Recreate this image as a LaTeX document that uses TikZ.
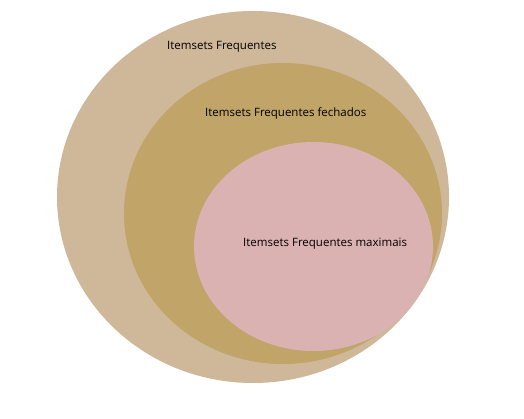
\documentclass[tikz,border=0pt]{standalone}
\usepackage{fontspec}
\setmainfont{Open Sans}
\definecolor{freq}{RGB}{207,184,154}
\definecolor{fech}{RGB}{192,164,104}
\definecolor{maxi}{RGB}{219,178,178}
\tikzset{rotulo/.style={anchor=west,inner sep=0pt,font=\fontsize{11.5}{13}\selectfont}}
\begin{document}
\begin{tikzpicture}[x=1pt,y=-1pt]
\useasboundingbox(0,0)rectangle(524,418);
\fill[freq](253,197)ellipse[x radius=196,y radius=186];
\fill[fech](283,213.5)ellipse[x radius=159,y radius=150.5];
\fill[maxi](313.5,246.5)ellipse[x radius=119.5,y radius=104.5];
\node[rotulo](fr)at(167,47){Itemsets Frequentes};
\node[rotulo](fe)at(205,113.5){Itemsets Frequentes fechados};
\node[rotulo](mx)at(243,243.5){Itemsets Frequentes maximais};
\end{tikzpicture}
\end{document}
